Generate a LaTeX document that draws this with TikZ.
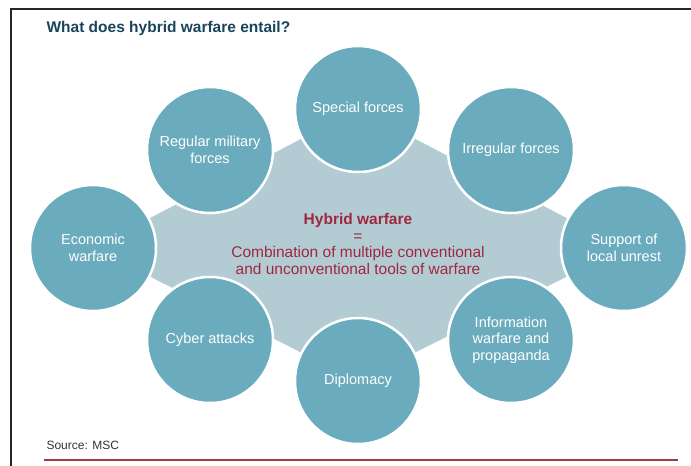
\documentclass[tikz,border=0pt]{standalone}
\usepackage{fontspec}
\setmainfont{Liberation Sans}
\usetikzlibrary{positioning,backgrounds}

\definecolor{toolblue}{RGB}{106,172,190}
\definecolor{diamondgrey}{RGB}{179,204,212}
\definecolor{titleblue}{RGB}{24,68,92}
\definecolor{hubred}{RGB}{160,40,62}
\definecolor{rulered}{RGB}{165,55,75}

\begin{document}
\begin{tikzpicture}[x=1pt,y=-1pt]
    % Define styles
    \tikzset{
        tool/.style={circle, fill=toolblue, draw=white, line width=2.5pt,
            minimum size=126pt, inner sep=0pt, text=white, align=center,
            font=\fontsize{14.5}{16.7}\selectfont},
        hub/.style={align=center, text=hubred, font=\fontsize{15.5}{16.5}\selectfont},
        heading/.style={anchor=west, text=titleblue, font=\fontsize{15.5}{18}\bfseries},
        frame/.style={line width=1.5pt, black!85}
    }
    \useasboundingbox (0,0) rectangle (691,466);

    % Frame and title
    \draw[frame] (11,466) -- (11,9) -- (691,9);
    \node[heading] (title) at (43,28) {What does hybrid warfare entail?};

    % Draw the tools around the centre
    \node[tool] (special) at (358,109) {Special forces};
    \node[tool] (regular) at (210,150) {Regular military\\forces};
    \node[tool] (irregular) at (511,150) {Irregular forces};
    \node[tool] (economic) at (93,248) {Economic\\warfare};
    \node[tool] (unrest) at (624,248) {Support of\\local unrest};
    \node[tool] (cyber) at (210,340) {Cyber attacks};
    \node[tool] (information) at (511,340) {Information\\warfare and\\propaganda};
    \node[tool] (diplomacy) at (358,381) {Diplomacy};

    % Centre statement
    \node[hub] (hybrid) at (358,244) {\textbf{Hybrid warfare}\\=\\Combination of multiple conventional\\and unconventional tools of warfare};

    % Diamond behind the circles
    \begin{pgfonlayer}{background}
        \fill[diamondgrey] (economic.center) -- (special.center) -- (unrest.center)
            -- (diplomacy.center) -- cycle;
    \end{pgfonlayer}

    % Source and rule
    \node[anchor=west, text=black!80, font=\fontsize{12}{14}\selectfont] (source) at (43,445) {Source: MSC};
    \draw[rulered, line width=1.5pt] (44,460) -- (678,460);
\end{tikzpicture}
\end{document}
